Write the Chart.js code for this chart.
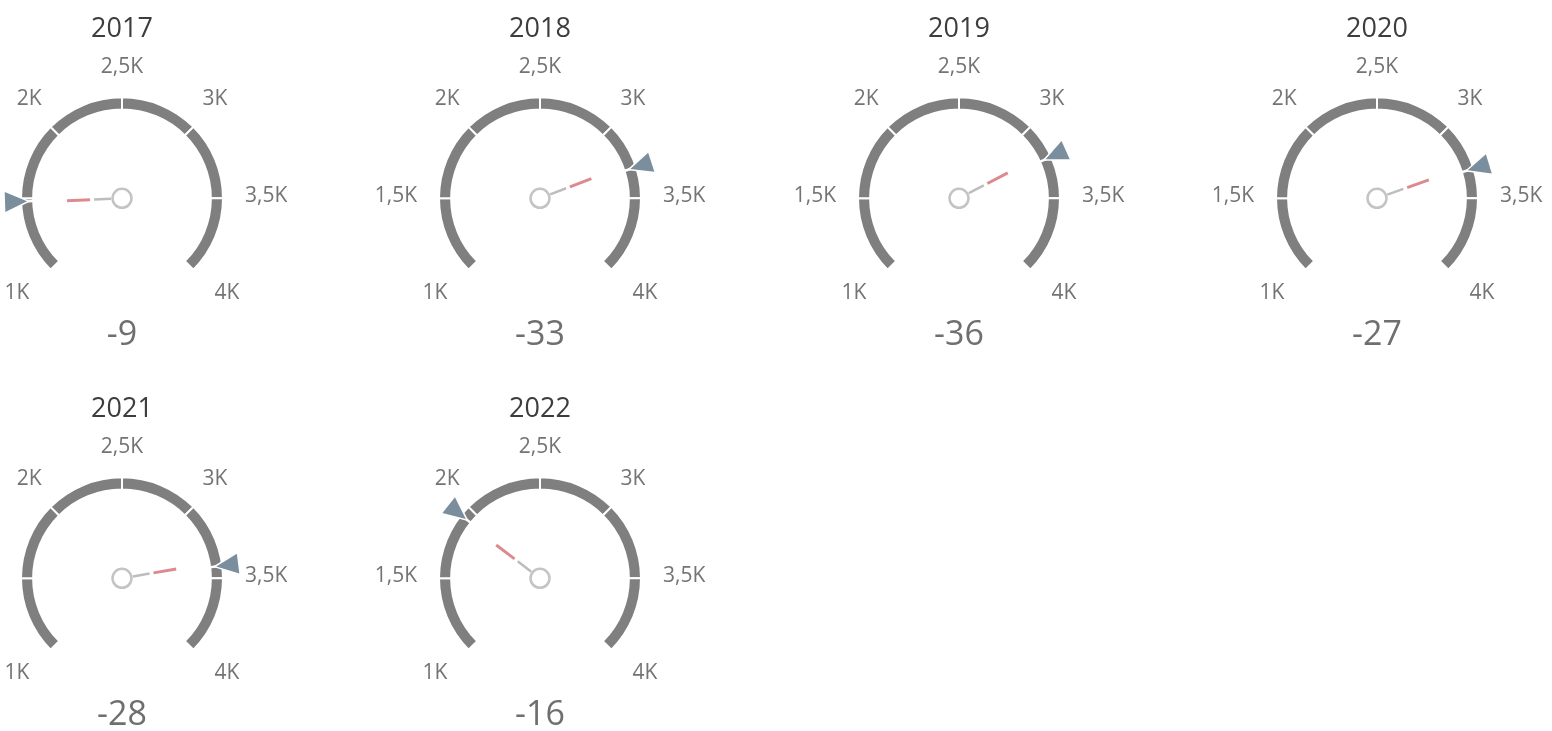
<!DOCTYPE html>
<html>
<head>
<meta charset="utf-8">
<script src="https://cdn.jsdelivr.net/npm/chart.js@4.4.1/dist/chart.umd.min.js"></script>
<style>
  body { margin: 0; background: #fff; overflow: hidden; width: 1552px; height: 731px; position: relative; }
  .gauge { position: absolute; width: 418px; height: 380px; }
</style>
</head>
<body>
<script>
// one gauge per year: needle = actual, triangle = target, number under it = actual - target
const years   = ['2017', '2018', '2019', '2020', '2021', '2022'];
const actual  = [1471, 3267, 3194, 3283, 3392, 1914];
const target  = [1480, 3300, 3230, 3310, 3420, 1930];
const scaleTicks = [1000, 1500, 2000, 2500, 3000, 3500, 4000];

const CELL_W = 418.33, CELL_H = 380, COLS = 4, FIRST_X = -87;
const FONT = '"Open Sans", "Segoe UI", sans-serif';

function fmtK(v) {
  return (v / 1000).toString().replace('.', ',') + 'K';
}

// segment sizes between consecutive ticks -> the doughnut slices
const segments = scaleTicks.slice(1).map((t, i) => t - scaleTicks[i]);

function valueToAngle(chart, v) {
  const arcs = chart.getDatasetMeta(0).data;
  const a0 = arcs[0].startAngle, a1 = arcs[arcs.length - 1].endAngle;
  const lo = scaleTicks[0], hi = scaleTicks[scaleTicks.length - 1];
  return a0 + (v - lo) / (hi - lo) * (a1 - a0);
}

const gaugeDecor = {
  id: 'gaugeDecor',
  afterDatasetsDraw(chart, args, opts) {
    const ctx = chart.ctx;
    const arc = chart.getDatasetMeta(0).data[0];
    const cx = arc.x, cy = arc.y;
    const outer = arc.outerRadius;
    const ray = (a, r) => [cx + Math.cos(a) * r, cy + Math.sin(a) * r];
    ctx.save();

    // target marker: white notch through the ring + triangle pointing in
    const ta = valueToAngle(chart, opts.target);
    ctx.strokeStyle = '#fff';
    ctx.lineWidth = 2.5;
    ctx.beginPath();
    ctx.moveTo(...ray(ta, arc.innerRadius - 2));
    ctx.lineTo(...ray(ta, outer + 2));
    ctx.stroke();

    const tip = ray(ta, 95);
    const bx = cx + Math.cos(ta) * 117, by = cy + Math.sin(ta) * 117;
    const px = -Math.sin(ta) * 10, py = Math.cos(ta) * 10;
    ctx.beginPath();
    ctx.moveTo(tip[0], tip[1]);
    ctx.lineTo(bx + px, by + py);
    ctx.lineTo(bx - px, by - py);
    ctx.closePath();
    ctx.lineJoin = 'miter';
    ctx.lineWidth = 3;
    ctx.strokeStyle = '#fff';
    ctx.stroke();
    ctx.fillStyle = '#7b8e9d';
    ctx.fill();

    // needle
    const na = valueToAngle(chart, opts.actual);
    ctx.lineCap = 'butt';
    ctx.lineWidth = 2.5;
    ctx.strokeStyle = '#bdbdbd';
    ctx.beginPath();
    ctx.moveTo(...ray(na, 11));
    ctx.lineTo(...ray(na, 28));
    ctx.stroke();
    ctx.lineWidth = 3;
    ctx.strokeStyle = '#dc8a90';
    ctx.beginPath();
    ctx.moveTo(...ray(na, 32));
    ctx.lineTo(...ray(na, 55));
    ctx.stroke();

    ctx.beginPath();
    ctx.arc(cx, cy, 9.5, 0, Math.PI * 2);
    ctx.fillStyle = '#fff';
    ctx.fill();
    ctx.lineWidth = 2.5;
    ctx.strokeStyle = '#c4c4c4';
    ctx.stroke();

    // scale labels outside the ring
    ctx.font = '21px ' + FONT;
    ctx.fillStyle = '#747474';
    ctx.textAlign = 'center';
    ctx.textBaseline = 'middle';
    scaleTicks.forEach(t => {
      const a = valueToAngle(chart, t);
      const txt = fmtK(t);
      const w = ctx.measureText(txt).width;
      const c = Math.cos(a), s = Math.sin(a);
      let x = c * (123 + w / 2);
      let y = s * 131;
      if (s < -0.1) {          // upper half: pull in a bit, lift the diagonals
        x -= c * 4;
        y -= 9 * Math.abs(c);
      } else if (s > 0.1) {    // lower ends sit wider and a touch lower
        x += Math.sign(c) * s * 13;
        y += 2;
      } else {
        y -= 2;
      }
      ctx.fillText(txt, cx + x, cy + y);
    });

    // year on top, difference below
    ctx.font = '27px ' + FONT;
    ctx.fillStyle = '#3d3d3d';
    ctx.fillText(opts.title, cx, cy - 169);
    ctx.font = '34px ' + FONT;
    ctx.fillStyle = '#6f6f6f';
    ctx.fillText(String(opts.actual - opts.target), cx, cy + 137);
    ctx.restore();
  }
};

years.forEach((year, i) => {
  const div = document.createElement('div');
  div.className = 'gauge';
  div.style.left = (FIRST_X + (i % COLS) * CELL_W) + 'px';
  div.style.top = (Math.floor(i / COLS) * CELL_H) + 'px';
  const canvas = document.createElement('canvas');
  canvas.width = 418;
  canvas.height = 380;
  div.appendChild(canvas);
  document.body.appendChild(div);

  new Chart(canvas, {
    type: 'doughnut',
    data: {
      labels: segments.map((_, k) => fmtK(scaleTicks[k]) + '-' + fmtK(scaleTicks[k + 1])),
      datasets: [{
        data: segments,
        backgroundColor: '#7f7f7f',
        borderColor: '#ffffff',
        borderWidth: 2,
        hoverOffset: 0
      }]
    },
    options: {
      responsive: false,
      animation: false,
      rotation: -135,
      circumference: 270,
      radius: 101,
      cutout: '88%',
      layout: { padding: { top: 0, bottom: 13 } },
      events: [],
      plugins: {
        legend: { display: false },
        tooltip: { enabled: false },
        gaugeDecor: { title: year, actual: actual[i], target: target[i] }
      }
    },
    plugins: [gaugeDecor]
  });
});
</script>
</body>
</html>
